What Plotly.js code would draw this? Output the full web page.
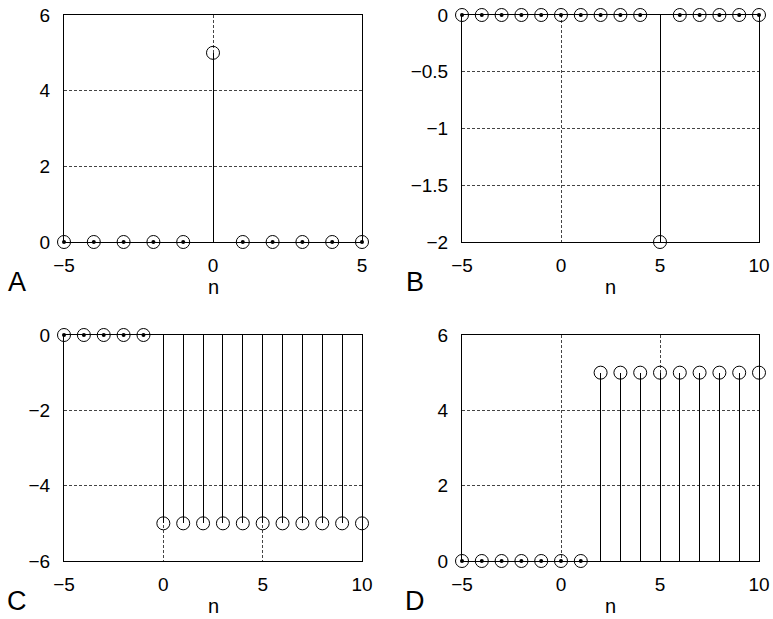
<!DOCTYPE html>
<html>
<head>
<meta charset="utf-8">
<script src="https://cdn.plot.ly/plotly-3.0.1.min.js"></script>
<style>
html,body{margin:0;padding:0;background:#fff;}
#chart{width:773px;height:619px;}
#chart .scatterlayer path.js-line{shape-rendering:crispEdges;}
</style>
</head>
<body>
<div id="chart"></div>
<script>
// ---- data ----
const nA = [-5,-4,-3,-2,-1,0,1,2,3,4,5];
const xA = [0,0,0,0,0,5,0,0,0,0,0];
const nB = [-5,-4,-3,-2,-1,0,1,2,3,4,5,6,7,8,9,10];
const xB = [0,0,0,0,0,0,0,0,0,0,-2,0,0,0,0,0];
const nC = [-5,-4,-3,-2,-1,0,1,2,3,4,5,6,7,8,9,10];
const xC = [0,0,0,0,0,-5,-5,-5,-5,-5,-5,-5,-5,-5,-5,-5];
const nD = [-5,-4,-3,-2,-1,0,1,2,3,4,5,6,7,8,9,10];
const xD = [0,0,0,0,0,0,0,5,5,5,5,5,5,5,5,5];
const panelLabels = ["A","B","C","D"];
const xLabel = "n";

const panels = [
  {n:nA, v:xA, xr:[-5,5], yr:[0,6], ydt:2},
  {n:nB, v:xB, xr:[-5,10], yr:[-2,0], ydt:0.5},
  {n:nC, v:xC, xr:[-5,10], yr:[-6,0], ydt:2},
  {n:nD, v:xD, xr:[-5,10], yr:[0,6], ydt:2}
];

const W = 773, H = 619;
const boxes = [
  {l:64, r:362, t:15, b:242},
  {l:462, r:759, t:15, b:242},
  {l:64, r:362, t:335, b:561},
  {l:462, r:759, t:335, b:561}
];

const traces = [];
const layout = {
  width: W, height: H,
  margin: {l:0, r:0, t:0, b:0},
  paper_bgcolor: "#fff", plot_bgcolor: "#fff",
  showlegend: false,
  font: {family: "Liberation Sans, Arial, sans-serif", size: 19, color: "#000"},
  annotations: []
};

panels.forEach((p, i) => {
  const k = i === 0 ? "" : String(i + 1);
  const xa = "x" + k, ya = "y" + k;
  const bx = boxes[i];
  // stems
  const sx = [], sy = [];
  p.n.forEach((n, j) => { if (p.v[j] !== 0) { sx.push(n, n, null); sy.push(0, p.v[j], null); } });
  traces.push({x: sx, y: sy, xaxis: xa, yaxis: ya, mode: "lines", type: "scatter",
    line: {color: "#000", width: 1}, hoverinfo: "skip", cliponaxis: false});
  // circles
  traces.push({x: p.n, y: p.v, xaxis: xa, yaxis: ya, mode: "markers", type: "scatter",
    marker: {symbol: "circle-open", size: 13, color: "#000", line: {width: 1, color: "#000"}},
    cliponaxis: false});
  // centre dots for zero samples
  const zx = [], zy = [];
  p.n.forEach((n, j) => { if (p.v[j] === 0) { zx.push(n); zy.push(p.v[j]); } });
  traces.push({x: zx, y: zy, xaxis: xa, yaxis: ya, mode: "markers", type: "scatter",
    marker: {symbol: "circle", size: 4, color: "#000"}, cliponaxis: false});

  const common = {
    showline: true, mirror: true, linecolor: "#000", linewidth: 1,
    showgrid: true, gridcolor: "#444", griddash: "3px,2px", gridwidth: 1,
    ticks: "", fixedrange: true, tickfont: {size: 19, color: "#000"}
  };
  layout["xaxis" + k] = Object.assign({}, common, {
    domain: [bx.l / W, bx.r / W], range: p.xr, dtick: 5, tick0: 0,
    zeroline: false, anchor: ya, ticklabelstandoff: 6
  });
  layout["yaxis" + k] = Object.assign({}, common, {
    domain: [1 - bx.b / H, 1 - bx.t / H], range: p.yr, dtick: p.ydt, tick0: 0,
    zeroline: true, zerolinecolor: "#000", zerolinewidth: 1, anchor: xa, ticklabelstandoff: 9
  });
  layout.annotations.push({
    text: panelLabels[i], xref: "paper", yref: "paper", showarrow: false,
    x: (bx.l - 47) / W, y: 1 - (bx.b + 40) / H, xanchor: "center", yanchor: "middle",
    font: {size: 27, color: "#000"}
  });
  layout.annotations.push({
    text: xLabel, xref: "paper", yref: "paper", showarrow: false,
    x: ((bx.l + bx.r) / 2) / W, y: 1 - (bx.b + 45) / H, xanchor: "center", yanchor: "middle",
    font: {size: 20, color: "#000"}
  });
});

Plotly.newPlot("chart", traces, layout, {displayModeBar: false, staticPlot: true});
</script>
</body>
</html>
